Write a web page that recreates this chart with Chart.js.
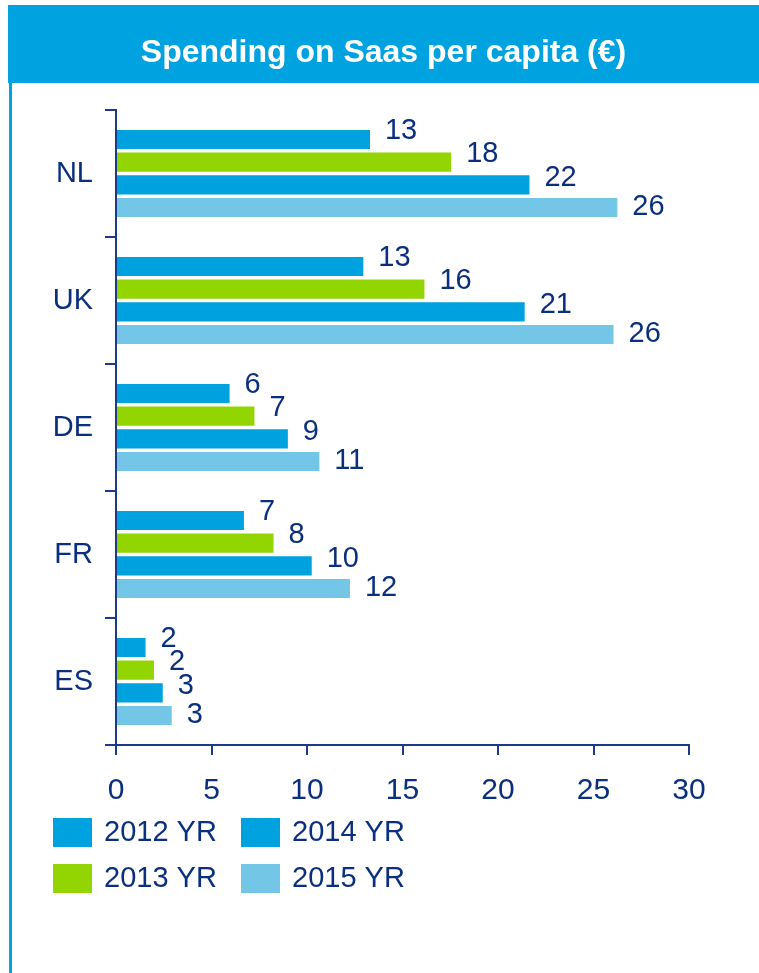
<!DOCTYPE html>
<html>
<head>
<meta charset="utf-8">
<script src="https://cdn.jsdelivr.net/npm/chart.js@4/dist/chart.umd.min.js"></script>
<style>
  html, body { margin: 0; padding: 0; background: #ffffff; }
  #wrap { position: relative; width: 759px; height: 973px; }
</style>
</head>
<body>
<div id="wrap"><canvas id="chart" width="759" height="973"></canvas></div>
<script>
// Countries and yearly SaaS spending per capita (EUR)
const countries = ['NL', 'UK', 'DE', 'FR', 'ES'];
const seriesNames = ['2012 YR', '2013 YR', '2014 YR', '2015 YR'];
const spend2012 = [13.35, 13.0, 6.0, 6.75, 1.6];
const spend2013 = [17.6, 16.2, 7.3, 8.3, 2.04];
const spend2014 = [21.7, 21.45, 9.05, 10.3, 2.5];
const spend2015 = [26.3, 26.1, 10.7, 12.3, 2.97];
const xTicks = [0, 5, 10, 15, 20, 25, 30];
const titleText = 'Spending on Saas per capita (\u20AC)';

const NAVY = '#0b2f7f';
const AXIS = '#1c3a88';
const BLUE = '#00a1df';
const GREEN = '#93d500';
const LIGHT = '#74c6e6';
const FONT = '"Liberation Sans", Arial, sans-serif';

const seriesValues = [spend2012, spend2013, spend2014, spend2015];
const seriesColors = [BLUE, GREEN, BLUE, LIGHT];
// vertical nudge of the value labels, per series
const labelNudge = [-8, -8, -7, -1];

// Title bar and left rule
const frameBar = {
  id: 'frameBar',
  beforeDraw(chart) {
    const ctx = chart.ctx;
    ctx.save();
    ctx.fillStyle = '#00a2e0';
    ctx.fillRect(8, 5, chart.width - 8, 78);
    ctx.fillRect(9, 83, 3, chart.height - 83);
    ctx.fillStyle = '#ffffff';
    ctx.font = 'bold 32px ' + FONT;
    ctx.textAlign = 'center';
    ctx.textBaseline = 'alphabetic';
    ctx.fillText(titleText, (8 + chart.width) / 2, 62);
    ctx.restore();
  }
};

// Rounded value printed at the end of every bar
const valueLabels = {
  id: 'valueLabels',
  afterDatasetsDraw(chart) {
    const ctx = chart.ctx;
    ctx.save();
    ctx.fillStyle = NAVY;
    ctx.font = '29px ' + FONT;
    ctx.textAlign = 'left';
    ctx.textBaseline = 'middle';
    chart.data.datasets.forEach((ds, di) => {
      const meta = chart.getDatasetMeta(di);
      meta.data.forEach((bar, i) => {
        const v = ds.data[i];
        ctx.fillText(String(Math.round(v)), bar.x + 14, bar.y + labelNudge[di]);
      });
    });
    ctx.restore();
  }
};

// Two-column legend under the axis (columns: 2012/2013, 2014/2015)
const gridLegend = {
  id: 'gridLegend',
  afterDraw(chart) {
    const ctx = chart.ctx;
    const area = chart.chartArea;
    const colX = [53, 241];
    const rowY = [area.bottom + 73, area.bottom + 119];
    ctx.save();
    ctx.font = '29px ' + FONT;
    ctx.textAlign = 'left';
    ctx.textBaseline = 'middle';
    chart.data.datasets.forEach((ds, di) => {
      const col = di < 2 ? 0 : 1;
      const row = di % 2;
      const x = colX[col], y = rowY[row];
      ctx.fillStyle = ds.backgroundColor;
      ctx.fillRect(x, y, 39, 29);
      ctx.fillStyle = NAVY;
      ctx.fillText(ds.label, x + 51, y + 15);
    });
    ctx.restore();
  }
};

const datasets = seriesNames.map((name, i) => ({
  label: name,
  data: seriesValues[i],
  backgroundColor: seriesColors[i],
  borderColor: 'rgba(255,255,255,0.55)',
  borderWidth: 1,
  barPercentage: 0.93,
  categoryPercentage: 0.715
}));

new Chart(document.getElementById('chart'), {
  type: 'bar',
  data: { labels: countries, datasets },
  plugins: [frameBar, valueLabels, gridLegend],
  options: {
    indexAxis: 'y',
    responsive: false,
    animation: false,
    layout: { padding: { top: 110, right: 70, left: 0, bottom: 168 } },
    plugins: {
      legend: { display: false },
      title: { display: false },
      tooltip: { enabled: false }
    },
    scales: {
      x: {
        type: 'linear',
        min: xTicks[0],
        max: xTicks[xTicks.length - 1],
        afterBuildTicks(scale) { scale.ticks = xTicks.map(v => ({ value: v })); },
        afterFit(scale) { scale.height = 60; },
        border: { color: AXIS, width: 2 },
        grid: { drawOnChartArea: false, drawTicks: true, tickLength: 10, color: AXIS, lineWidth: 2 },
        ticks: { color: NAVY, font: { family: FONT, size: 30 }, padding: 18, maxRotation: 0 }
      },
      y: {
        afterFit(scale) { scale.width = 116; },
        border: { color: AXIS, width: 2 },
        grid: { offset: true, drawOnChartArea: false, drawTicks: true, tickLength: 11, color: AXIS, lineWidth: 2 },
        ticks: { color: NAVY, font: { family: FONT, size: 29 }, padding: 12 }
      }
    }
  }
});
</script>
</body>
</html>
